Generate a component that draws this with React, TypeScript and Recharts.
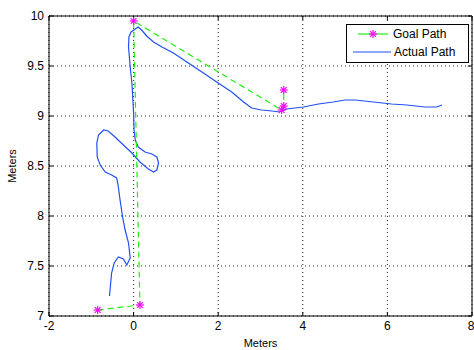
import React from 'react';
import {
  ScatterChart,
  Scatter,
  XAxis,
  YAxis,
  CartesianGrid,
  ReferenceArea,
  ReferenceLine,
} from 'recharts';

// Goal path waypoints (green dashed, magenta stars)
const goalX = [-0.85, 0.15, 0.0, 3.5, 3.55, 3.55];
const goalY = [7.06, 7.11, 9.95, 9.06, 9.1, 9.26];

// Actual robot path (blue)
const actualX = [
  -0.57, -0.52, -0.46, -0.36, -0.24, -0.16, -0.08, -0.12, -0.2, -0.26, -0.32, -0.36, -0.4,
  -0.52, -0.67, -0.79, -0.86, -0.87, -0.83, -0.71, -0.6, -0.44, -0.24, -0.04, 0.15, 0.35,
  0.47, 0.55, 0.59, 0.55, 0.43, 0.27, 0.11, 0.04, 0.01, 0.0, -0.04, -0.08, -0.12, -0.11,
  -0.06, 0.04, 0.11, 0.19, 0.31, 0.47, 0.67, 0.94, 1.26, 1.65, 2.0, 2.32, 2.6, 2.79, 3.03,
  3.27, 3.45, 3.62, 4.01, 4.37, 4.72, 5.0, 5.24, 5.67, 6.1, 6.46, 6.89, 7.17, 7.29,
];
const actualY = [
  7.2, 7.43, 7.53, 7.59, 7.57, 7.51, 7.58, 7.73, 7.86, 7.99, 8.16, 8.29, 8.38,
  8.41, 8.44, 8.51, 8.59, 8.73, 8.81, 8.86, 8.85, 8.79, 8.71, 8.63, 8.54, 8.47,
  8.44, 8.46, 8.53, 8.59, 8.62, 8.64, 8.69, 8.76, 8.86, 9.03, 9.33, 9.49, 9.69, 9.79,
  9.84, 9.87, 9.89, 9.86, 9.8, 9.74, 9.69, 9.63, 9.54, 9.43, 9.33, 9.24, 9.14, 9.08, 9.06,
  9.05, 9.04, 9.07, 9.09, 9.12, 9.14, 9.16, 9.16, 9.14, 9.12, 9.11, 9.09, 9.09, 9.11,
];

const xTicks = [-2, 0, 2, 4, 6, 8];
const yTicks = [7, 7.5, 8, 8.5, 9, 9.5, 10];

const goalData = goalX.map((x, i) => ({ x, y: goalY[i] }));
const actualData = actualX.map((x, i) => ({ x, y: actualY[i] }));

const GREEN = '#22ee11';
const BLUE = '#2050f5';
const MAGENTA = '#ff00ff';
const FONT = '"Liberation Sans", Arial, sans-serif';

// inward tick length, in data units (about 4px each way)
const TICK_DY = 0.04;
const TICK_DX = 0.1;

const Star = ({ cx, cy, r = 4 }: { cx: number; cy: number; r?: number }) => {
  const d = r * 0.72;
  return (
    <g stroke={MAGENTA} strokeWidth={1.2}>
      <line x1={cx - r} y1={cy} x2={cx + r} y2={cy} />
      <line x1={cx} y1={cy - r} x2={cx} y2={cy + r} />
      <line x1={cx - d} y1={cy - d} x2={cx + d} y2={cy + d} />
      <line x1={cx - d} y1={cy + d} x2={cx + d} y2={cy - d} />
    </g>
  );
};

// legend drawn over the chart, top right inside the axes box
const LegendBox = () => (
  <svg width={124} height={40} style={{ position: 'absolute', left: 346, top: 24 }}>
    <rect x={0.5} y={0.5} width={122} height={38} fill="#fff" stroke="#000" />
    <line x1={12} y1={10} x2={42} y2={10} stroke={GREEN} strokeWidth={1.2} />
    <Star cx={27} cy={10} />
    <text x={47} y={14} fontSize={12} fontFamily={FONT} fill="#000">Goal Path</text>
    <line x1={7} y1={28} x2={45} y2={28} stroke={BLUE} strokeWidth={1.2} />
    <text x={48} y={32} fontSize={12} fontFamily={FONT} fill="#000">Actual Path</text>
  </svg>
);

export default function App() {
  const [xMin, xMax] = [xTicks[0], xTicks[xTicks.length - 1]];
  const [yMin, yMax] = [yTicks[0], yTicks[yTicks.length - 1]];
  return (
    <div style={{ position: 'absolute', left: 0, top: 0, width: 474, height: 350, background: '#fff' }}>
      <ScatterChart
        width={474}
        height={350}
        margin={{ top: 16, right: 2, bottom: 0, left: 0 }}
      >
        <CartesianGrid stroke="#222" strokeDasharray="1 3" />
        <XAxis
          type="number"
          dataKey="x"
          domain={[xMin, xMax]}
          ticks={xTicks}
          height={34}
          tickLine={false}
          tickSize={0}
          tickMargin={5}
          axisLine={false}
          tick={{ fill: '#000', fontSize: 12, fontFamily: FONT }}
          allowDataOverflow
          label={{
            value: 'Meters',
            position: 'insideBottom',
            offset: 3,
            style: { fill: '#000', fontSize: 11, fontFamily: FONT },
          }}
        />
        <YAxis
          type="number"
          dataKey="y"
          domain={[yMin, yMax]}
          ticks={yTicks}
          width={49}
          tickLine={false}
          tickSize={0}
          tickMargin={5}
          axisLine={false}
          tick={{ fill: '#000', fontSize: 12, fontFamily: FONT }}
          allowDataOverflow
          label={{
            value: 'Meters',
            angle: -90,
            position: 'insideLeft',
            offset: 12,
            style: { fill: '#000', fontSize: 11, fontFamily: FONT, textAnchor: 'middle' },
          }}
        />
        {xTicks.map((t) => (
          <ReferenceLine
            key={`xb${t}`}
            segment={[{ x: t, y: yMin }, { x: t, y: yMin + TICK_DY }]}
            stroke="#000"
            ifOverflow="visible"
          />
        ))}
        {xTicks.map((t) => (
          <ReferenceLine
            key={`xt${t}`}
            segment={[{ x: t, y: yMax }, { x: t, y: yMax - TICK_DY }]}
            stroke="#000"
            ifOverflow="visible"
          />
        ))}
        {yTicks.map((t) => (
          <ReferenceLine
            key={`yl${t}`}
            segment={[{ x: xMin, y: t }, { x: xMin + TICK_DX, y: t }]}
            stroke="#000"
            ifOverflow="visible"
          />
        ))}
        {yTicks.map((t) => (
          <ReferenceLine
            key={`yr${t}`}
            segment={[{ x: xMax, y: t }, { x: xMax - TICK_DX, y: t }]}
            stroke="#000"
            ifOverflow="visible"
          />
        ))}
        <ReferenceArea
          x1={xMin}
          x2={xMax}
          y1={yMin}
          y2={yMax}
          fill="none"
          stroke="#000"
          strokeWidth={1}
          ifOverflow="visible"
        />
        <Scatter
          name="Actual Path"
          data={actualData}
          line={{ stroke: BLUE, strokeWidth: 1.2 }}
          lineType="joint"
          shape={() => <g />}
          isAnimationActive={false}
        />
        <Scatter
          name="Goal Path"
          data={goalData}
          line={{ stroke: GREEN, strokeWidth: 1.2, strokeDasharray: '6 4' }}
          lineType="joint"
          shape={(p: any) => <Star cx={p.cx} cy={p.cy} />}
          isAnimationActive={false}
        />
      </ScatterChart>
      <LegendBox />
    </div>
  );
}
